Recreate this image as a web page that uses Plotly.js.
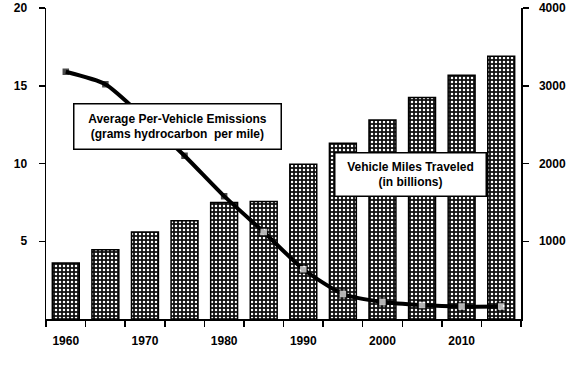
<!DOCTYPE html>
<html>
<head>
<meta charset="utf-8">
<script src="https://cdn.plot.ly/plotly-3.0.1.min.js"></script>
<style>
html,body{margin:0;padding:0;background:#fff;}
#chart{width:581px;height:377px;}
</style>
</head>
<body>
<div id="chart"></div>
<script>
// Data
var years = [1960, 1965, 1970, 1975, 1980, 1985, 1990, 1995, 2000, 2005, 2010, 2015];
var vehicleMiles = [720, 890, 1120, 1265, 1500, 1510, 1990, 2260, 2560, 2850, 3135, 3380];
var emissions = [15.9, 15.1, 12.9, 10.5, 7.9, 5.6, 3.2, 1.6, 1.1, 0.9, 0.8, 0.8];
var xTickLabels = ['1960', '1970', '1980', '1990', '2000', '2010'];
var xTickVals = [1960, 1970, 1980, 1990, 2000, 2010];
var leftTicks = [5, 10, 15, 20];
var rightTicks = [1000, 2000, 3000, 4000];
var emissionsLabel = 'Average Per-Vehicle Emissions<br>(grams hydrocarbon  per mile)';
var milesLabel = 'Vehicle Miles Traveled<br>(in billions)';

// marker styling: solid small squares early, open squares later
var markerFill = years.map(function(y){ return y < 1985 ? '#000' : '#fff'; });
var markerSize = years.map(function(y){ return y < 1985 ? 5 : 8; });

var font = {family: '"Liberation Sans", Arial, sans-serif', size: 12, color: '#000'};

var bars = {
  type: 'bar',
  x: years,
  y: vehicleMiles,
  yaxis: 'y',
  width: 3.4,
  marker: {
    color: '#111',
    line: {color: '#000', width: 1.5},
    pattern: {shape: '.', fgcolor: '#fff', bgcolor: '#111', size: 4, solidity: 0.3}
  },
  hoverinfo: 'skip',
  showlegend: false
};

var line = {
  type: 'scatter',
  mode: 'lines+markers',
  x: years,
  y: emissions,
  yaxis: 'y2',
  line: {color: '#000', width: 4, shape: 'spline', smoothing: 0.6},
  marker: {symbol: 'square', size: markerSize, color: markerFill, line: {color: '#000', width: 1.5}},
  hoverinfo: 'skip',
  showlegend: false
};

var layout = {
  width: 581,
  height: 377,
  margin: {l: 46, r: 60, t: 8, b: 58},
  paper_bgcolor: '#fff',
  plot_bgcolor: 'rgba(0,0,0,0)',
  font: font,
  showlegend: false,
  xaxis: {
    range: [1957.5, 2017.5],
    tickvals: xTickVals,
    ticktext: xTickLabels,
    ticks: '',
    showgrid: false,
    zeroline: false,
    showline: true,
    linecolor: '#000',
    linewidth: 1.5,
    ticklabelstandoff: 10,
    tickfont: {family: font.family, size: 12, weight: 'bold'},
    minor: {ticks: 'outside', tick0: 1957.5, dtick: 5, ticklen: 6, tickwidth: 1.5, tickcolor: '#000', showgrid: false}
  },
  yaxis: {
    side: 'right',
    range: [0, 4000],
    tickvals: rightTicks,
    ticks: 'outside',
    ticklen: 6,
    tickwidth: 1.5,
    tickcolor: '#000',
    showgrid: false,
    zeroline: false,
    showline: true,
    linecolor: '#000',
    linewidth: 1.5,
    ticklabelstandoff: 8,
    tickfont: {family: font.family, size: 12, weight: 'bold'}
  },
  yaxis2: {
    overlaying: 'y',
    side: 'left',
    range: [0, 20],
    tickvals: leftTicks,
    ticks: 'outside',
    ticklen: 6,
    tickwidth: 1.5,
    tickcolor: '#000',
    showgrid: false,
    zeroline: false,
    showline: true,
    linecolor: '#000',
    linewidth: 1.5,
    ticklabelstandoff: 9,
    tickfont: {family: font.family, size: 12, weight: 'bold'}
  },
  annotations: [
    {
      xref: 'paper', yref: 'paper', x: 0.276, y: 0.62,
      xanchor: 'center', yanchor: 'middle',
      text: emissionsLabel, showarrow: false, align: 'center',
      font: {family: font.family, size: 12, weight: 'bold'},
      bgcolor: '#fff', bordercolor: '#000', borderwidth: 1.5, borderpad: 3,
      width: 200, height: 38
    },
    {
      xref: 'paper', yref: 'paper', x: 0.768, y: 0.466,
      xanchor: 'center', yanchor: 'middle',
      text: milesLabel, showarrow: false, align: 'center',
      font: {family: font.family, size: 12, weight: 'bold'},
      bgcolor: '#fff', bordercolor: '#000', borderwidth: 1.5, borderpad: 3,
      width: 144, height: 36
    }
  ]
};

Plotly.newPlot('chart', [bars, line], layout, {staticPlot: true, displayModeBar: false});
</script>
</body>
</html>
